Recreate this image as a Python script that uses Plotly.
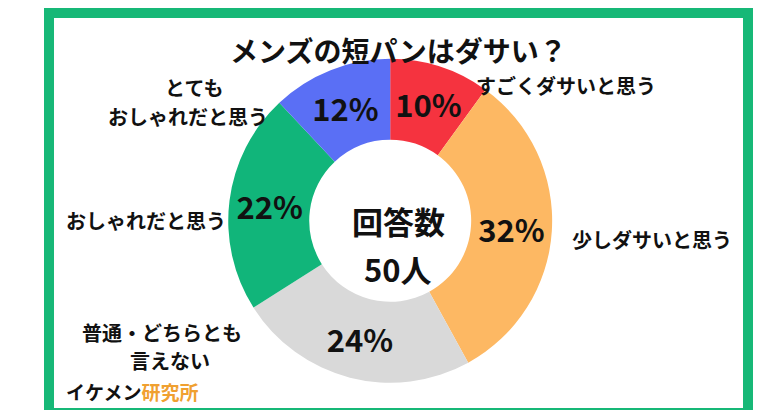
import plotly.graph_objects as go

labels = ["すごくダサいと思う", "少しダサいと思う", "普通・どちらとも言えない", "おしゃれだと思う", "とてもおしゃれだと思う"]
values = [10, 32, 24, 22, 12]
colors = ["#f5333f", "#fdb863", "#d9d9d9", "#11b57a", "#5a6ff5"]
texts = ["<b>10%</b>", "<b>32%</b>", "<b>24%</b>", "<b>22%</b>", "<b>12%</b>"]

F = "Noto Sans CJK JP"
fig = go.Figure(go.Pie(
    values=values, labels=labels, text=texts, textinfo="text", sort=False,
    direction="clockwise", rotation=0, hole=0.5, textposition="inside",
    marker=dict(colors=colors, line=dict(color="white", width=0)),
    textfont=dict(family=F, size=31, color="#111"), insidetextorientation="horizontal",
    domain=dict(x=[0.282, 0.698], y=[0.086, 0.876]), showlegend=False, hoverinfo="skip"))

def px(x, y): return x / 780, 1 - y / 410
anns = [
    (390, 42, "メンズの短パンはダサい？", 28, "center"),
    (466, 78, "すごくダサいと思う", 20, "left"),
    (562, 232, "少しダサいと思う", 20, "left"),
    (155, 80, "とても", 20, "left"),
    (98, 108, "おしゃれだと思う", 20, "left"),
    (56, 212, "おしゃれだと思う", 20, "left"),
    (72, 324, "普通・どちらとも", 20, "left"),
    (120, 352, "言えない", 20, "left"),
    (390, 212, "回答数", 31, "center"),
    (390, 260, "50人", 31, "center"),
]
A = []
for x, y, t, s, al in anns:
    xx, yy = px(x, y)
    A.append(dict(x=xx, y=yy, xref="paper", yref="paper", text="<b>" + t + "</b>", showarrow=False,
                  xanchor=al, yanchor="middle",
                  font=dict(family=F, size=s, color="#111")))
xx, yy = px(56, 383)
A.append(dict(x=xx, y=yy, xref="paper", yref="paper", showarrow=False, xanchor="left", yanchor="middle",
              text="<b>イケメン<span style='color:#f0a030'>研究所</span></b>",
              font=dict(family=F, size=19, color="#111")))
fig.update_layout(width=780, height=410, margin=dict(l=0, r=0, t=0, b=0),
                  uniformtext=dict(minsize=31, mode="show"),
                  paper_bgcolor="white", annotations=A,
                  shapes=[dict(type="rect", xref="paper", yref="paper", x0=41/780, x1=740/780, y0=5/410, y1=1-5/410,
                               line=dict(color="#17b877", width=10))])
fig.write_html("out.html")
